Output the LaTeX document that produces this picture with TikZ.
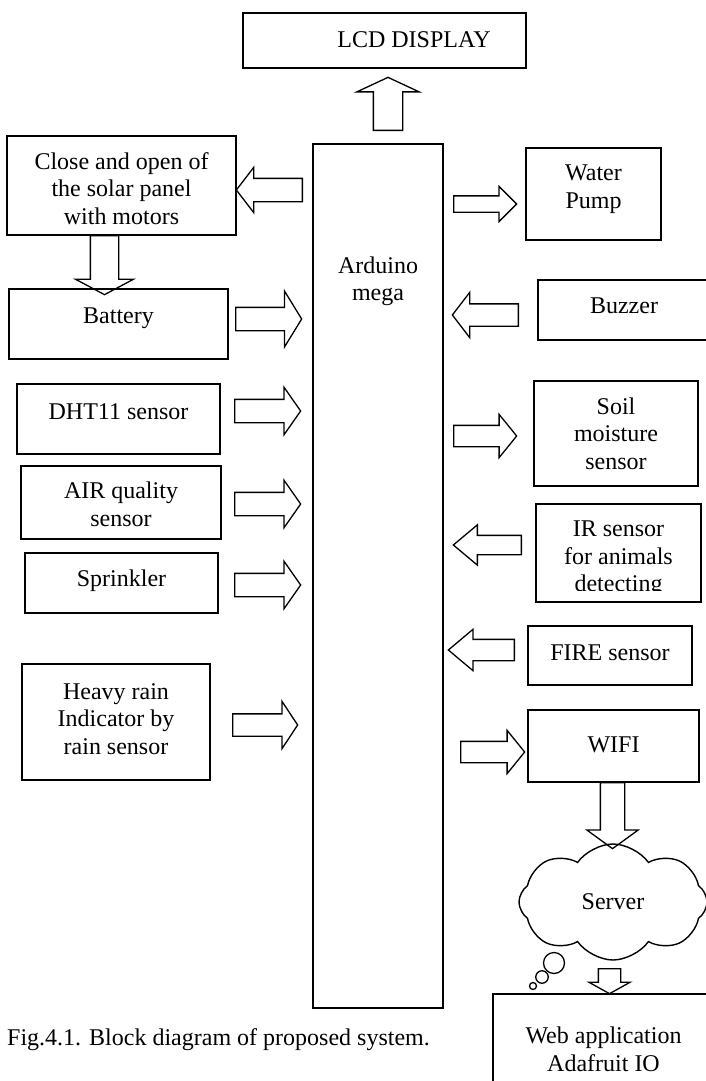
\documentclass[tikz,border=0pt]{standalone}
\usepackage{fontspec}
\setmainfont{Liberation Serif}
\usetikzlibrary{shapes.arrows,shapes.symbols}

\begin{document}
\begin{tikzpicture}
  [x=1pt,y=-1pt,
   font=\fontsize{24}{27.5}\selectfont,
   box/.style={draw,line width=1.4pt,align=center,inner sep=0pt},
   oneline/.style={text height=16pt,text depth=#1},
   blk/.style n args={4}{draw,single arrow,line width=1.3pt,inner xsep=0pt,
     anchor=tail,minimum height=#1,inner ysep=#2,
     single arrow head extend=#3,single arrow tip angle=#4},
   bubble/.style={draw,circle,line width=1.3pt,inner sep=0pt}
  ]
  \useasboundingbox (0,0) rectangle (706,1081);

  % controller
  \node[box,oneline=2.6pt,minimum width=283pt,minimum height=55pt] (lcd) at (384.5,40.5) {\hspace*{59pt}LCD DISPLAY};
  \node[box,minimum width=130pt,minimum height=864pt] (ard) at (378,576) {};
  \node[align=center,text height=43.5pt,text depth=1.6pt] (ardtxt) at (378,280) {Arduino\\mega};

  % left column
  \node[box,minimum width=229pt,minimum height=99pt,text height=77.4pt,text depth=0pt] (solar) at (121.5,185.5) {Close and open of\\the solar panel\\with motors};
  \node[box,oneline=17.6pt,minimum width=219pt,minimum height=70pt] (bat) at (118.5,324) {Battery};
  \node[box,oneline=15.6pt,minimum width=203pt,minimum height=70pt] (dht) at (118.5,419) {DHT11 sensor};
  \node[box,minimum width=200pt,minimum height=73pt,text height=47.9pt,text depth=0pt] (air) at (121,502.5) {AIR quality\\sensor};
  \node[box,oneline=9.6pt,minimum width=193pt,minimum height=60pt] (spr) at (121.5,583) {Sprinkler};
  \node[box,minimum width=188pt,minimum height=116pt,text height=71pt,text depth=6.6pt] (rain) at (116,722) {Heavy rain\\Indicator by\\rain sensor};

  % right column
  \node[box,minimum width=135pt,minimum height=92pt,text height=43.5pt,text depth=14.6pt] (pump) at (593.5,194) {Water\\Pump};
  \node[box,oneline=9.6pt,minimum width=172pt,minimum height=60pt] (buz) at (624,310) {Buzzer};
  \node[box,minimum width=164pt,minimum height=105pt,text height=71pt,text depth=0pt] (soil) at (616,433.5) {Soil\\moisture\\sensor};
  \node[box,minimum width=165pt,minimum height=98pt] (ir) at (618.5,553) {};
  \begin{scope}
    \clip (536,504) rectangle (701,590);
    \node[align=center,text height=71pt,text depth=1.6pt] (irtxt) at (618.5,557) {IR sensor\\for animals\\detecting};
  \end{scope}
  \node[box,oneline=6.6pt,minimum width=164pt,minimum height=59pt] (fire) at (610,655.5) {FIRE sensor};
  \node[box,oneline=3.6pt,minimum width=171pt,minimum height=72pt] (wifi) at (613.5,746) {WIFI};
  \node[cloud,draw,line width=1.4pt,cloud puffs=8,cloud puff arc=110,aspect=1.6,
        minimum width=188pt,minimum height=116pt,inner sep=0pt] (server) at (613,902) {Server};
  \node[bubble,minimum size=21pt] (bub1) at (554,963) {};
  \node[bubble,minimum size=12.5pt] (bub2) at (542,977) {};
  \node[bubble,minimum size=7pt] (bub3) at (533,986) {};
  \node[box,minimum width=221pt,minimum height=113pt,text height=43.5pt,text depth=1.6pt] (web) at (603.5,1050.5) {Web application\\Adafruit IO};

  \node[anchor=base west,inner sep=0pt] (cap) at (7,1045) {Fig.4.1. Block diagram of proposed system.};

  % block arrows
  \node[blk={53pt}{14pt}{16.5pt}{130},rotate=90] (a-lcd) at (388,131) {};
  \node[blk={66pt}{11pt}{11pt}{105},rotate=180] (a-solar) at (303,190) {};
  \node[blk={59pt}{13.5pt}{15pt}{124},rotate=-90] (a-bat) at (104.5,235) {};
  \node[blk={66pt}{11pt}{16.5pt}{117}] (a-batard) at (235,319) {};
  \foreach \y/\n in {411/dht,504/air,585/spr}
    \node[blk={66pt}{11pt}{12pt}{110}] (a-\n) at (234,\y) {};
  \node[blk={65pt}{10.5pt}{12.5pt}{113}] (a-rain) at (232,725) {};
  \node[blk={63pt}{7.5pt}{9.5pt}{90}] (a-pump) at (453,204) {};
  \node[blk={66pt}{10.5pt}{11.5pt}{105},rotate=180] (a-buz) at (519,315) {};
  \node[blk={63pt}{10pt}{11pt}{102}] (a-soil) at (453,436) {};
  \node[blk={68pt}{9pt}{10.5pt}{80},rotate=180] (a-ir) at (522,545) {};
  \node[blk={66pt}{10pt}{10pt}{80},rotate=180] (a-fire) at (515,650) {};
  \node[blk={64pt}{10pt}{11pt}{102}] (a-wifi) at (460,752) {};
  \node[blk={66pt}{11.5pt}{13.5pt}{108},rotate=-90] (a-server) at (612.5,782) {};
  \node[blk={25pt}{10.5pt}{9.5pt}{122},rotate=-90] (a-web) at (609.5,968) {};

\end{tikzpicture}
\end{document}
